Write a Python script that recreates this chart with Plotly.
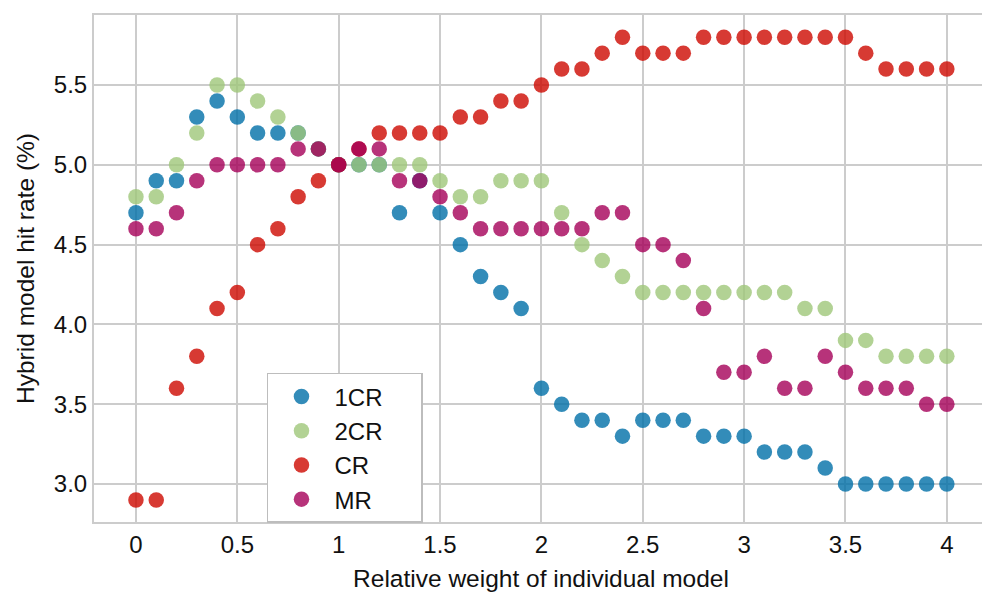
import plotly.graph_objects as go

x_vals = [round(i * 0.1, 1) for i in range(41)]

cr1 = [4.7, 4.9, 4.9, 5.3, 5.4, 5.3, 5.2, 5.2, 5.2, 5.1,
       5.0, 5.0, 5.0, 4.7, 4.9, 4.7, 4.5, 4.3, 4.2, 4.1,
       3.6, 3.5, 3.4, 3.4, 3.3, 3.4, 3.4, 3.4, 3.3, 3.3,
       3.3, 3.2, 3.2, 3.2, 3.1, 3.0, 3.0, 3.0, 3.0, 3.0, 3.0]
cr2 = [4.8, 4.8, 5.0, 5.2, 5.5, 5.5, 5.4, 5.3, 5.2, 5.1,
       5.0, 5.0, 5.0, 5.0, 5.0, 4.9, 4.8, 4.8, 4.9, 4.9,
       4.9, 4.7, 4.5, 4.4, 4.3, 4.2, 4.2, 4.2, 4.2, 4.2,
       4.2, 4.2, 4.2, 4.1, 4.1, 3.9, 3.9, 3.8, 3.8, 3.8, 3.8]
cr = [2.9, 2.9, 3.6, 3.8, 4.1, 4.2, 4.5, 4.6, 4.8, 4.9,
      5.0, 5.1, 5.2, 5.2, 5.2, 5.2, 5.3, 5.3, 5.4, 5.4,
      5.5, 5.6, 5.6, 5.7, 5.8, 5.7, 5.7, 5.7, 5.8, 5.8,
      5.8, 5.8, 5.8, 5.8, 5.8, 5.8, 5.7, 5.6, 5.6, 5.6, 5.6]
mr = [4.6, 4.6, 4.7, 4.9, 5.0, 5.0, 5.0, 5.0, 5.1, 5.1,
      5.0, 5.1, 5.1, 4.9, 4.9, 4.8, 4.7, 4.6, 4.6, 4.6,
      4.6, 4.6, 4.6, 4.7, 4.7, 4.5, 4.5, 4.4, 4.1, 3.7,
      3.7, 3.8, 3.6, 3.6, 3.8, 3.7, 3.6, 3.6, 3.6, 3.5, 3.5]

series_names = ["1CR", "2CR", "CR", "MR"]
series_values = [cr1, cr2, cr, mr]
series_colors = ["#006fa8", "#9fc779", "#cd0900", "#a50059"]

x_ticks = [0, 0.5, 1, 1.5, 2, 2.5, 3, 3.5, 4]
x_ticklabels = ["0", "0.5", "1", "1.5", "2", "2.5", "3", "3.5", "4"]
y_ticks = [3.0, 3.5, 4.0, 4.5, 5.0, 5.5]
y_ticklabels = ["3.0", "3.5", "4.0", "4.5", "5.0", "5.5"]

pad = "\u00a0" * 5  # extra room on the right of legend labels

fig = go.Figure()
for name, vals, col in zip(series_names, series_values, series_colors):
    fig.add_trace(go.Scatter(
        x=x_vals, y=vals, mode="markers", name=name + pad,
        marker=dict(size=15.5, color=col, opacity=0.8, line=dict(width=0)),
    ))

font_family = "Liberation Sans, Arial, sans-serif"
fig.update_layout(
    width=990, height=595,
    margin=dict(l=86, r=10, t=7, b=81),
    paper_bgcolor="white", plot_bgcolor="white",
    font=dict(family=font_family, size=24, color="#111111"),
    showlegend=True,
    legend=dict(
        x=0.1935, y=0.294, xanchor="left", yanchor="top",
        bgcolor="white", bordercolor="#bdbdbd", borderwidth=1.5,
        font=dict(size=24, family=font_family, color="#111111"),
        itemwidth=56, tracegroupgap=0,
    ),
    xaxis=dict(
        range=[-0.207, 4.203],
        tickvals=x_ticks, ticktext=x_ticklabels,
        showgrid=True, gridcolor="#cccccc", gridwidth=2,
        zeroline=False,
        showline=True, linecolor="#cccccc", linewidth=2, mirror=True,
        ticks="", ticklen=0, automargin=False,
        title=dict(text="Relative weight of individual model", font=dict(size=24.5), standoff=13),
        tickfont=dict(size=24),
    ),
    yaxis=dict(
        range=[2.762, 5.939],
        tickvals=y_ticks, ticktext=y_ticklabels,
        showgrid=True, gridcolor="#cccccc", gridwidth=2,
        zeroline=False,
        showline=True, linecolor="#cccccc", linewidth=2, mirror=True,
        ticks="", ticklen=0, automargin=False,
        title=dict(text="Hybrid model hit rate (%)", font=dict(size=24.5), standoff=12),
        tickfont=dict(size=24),
    ),
)

fig.write_html("out.html")
